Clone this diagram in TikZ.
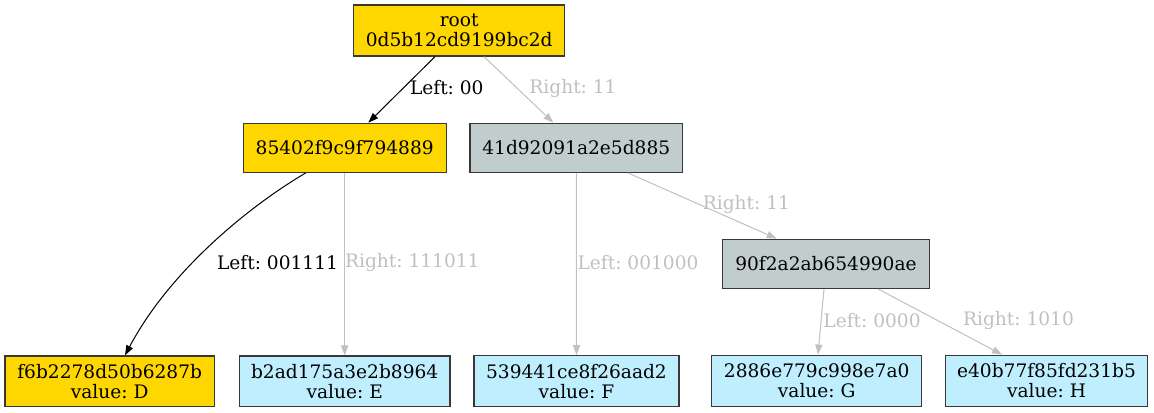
\documentclass[tikz,border=0pt]{standalone}
\usepackage{fontspec}
\setmainfont{DejaVu Serif}
\usetikzlibrary{arrows.meta,calc}
\definecolor{gold}{HTML}{FFD700}
\definecolor{azurethree}{HTML}{C1CDCD}
\definecolor{lightblueone}{HTML}{BFEFFF}
\definecolor{edgegray}{HTML}{C0C0C0}
\definecolor{borderdark}{HTML}{383838}
\lineskiplimit=-20pt
\frenchspacing
\begin{document}
\begin{tikzpicture}[x=0.5pt,y=-0.5pt,
  font=\fontsize{9.3}{10}\selectfont,
  box/.style={draw=borderdark,line width=0.65pt,inner sep=0pt,align=center},
  onpath/.style={box,fill=gold},
  inner/.style={box,fill=azurethree},
  leaf/.style={box,fill=lightblueone},
  taken/.style={draw=black,line width=0.5pt,-{Triangle[length=5pt,width=3.6pt]}},
  other/.style={draw=edgegray,line width=0.5pt,-{Triangle[length=5pt,width=3.6pt]}},
  lbl/.style={inner sep=0pt},
  lblgray/.style={lbl,text=edgegray}]
\useasboundingbox (0,0) rectangle (1154,412);

% tree nodes
\node[onpath,minimum width=105.5pt,minimum height=25.5pt] (root) at (459.2,30.5) {root\\0d5b12cd9199bc2d};
\node[onpath,minimum width=101.5pt,minimum height=24.5pt] (n85) at (344.7,147.8) {85402f9c9f794889};
\node[inner,minimum width=106.3pt,minimum height=24.5pt] (n41) at (576.3,147.8) {41d92091a2e5d885};
\node[inner,minimum width=103.2pt,minimum height=24.5pt] (n90) at (826,263.8) {90f2a2ab654990ae};
\node[onpath,minimum width=104.6pt,minimum height=25.3pt] (lfD) at (109.7,381.3) {f6b2278d50b6287b\\value: D};
\node[leaf,minimum width=105.3pt,minimum height=25.3pt] (lfE) at (344.7,381.3) {b2ad175a3e2b8964\\value: E};
\node[leaf,minimum width=102.5pt,minimum height=25.5pt] (lfF) at (576.5,381.2) {539441ce8f26aad2\\value: F};
\node[leaf,minimum width=105pt,minimum height=25.8pt] (lfG) at (816.7,381) {2886e779c998e7a0\\value: G};
\node[leaf,minimum width=100.8pt,minimum height=25.8pt] (lfH) at (1046.5,381) {e40b77f85fd231b5\\value: H};

% edges
\draw[taken] ($(root.south)+(-24.2,0)$) -- ($(n85.north)+(23.6,0)$);
\draw[other] ($(root.south)+(24.8,0)$) -- ($(n41.north)+(-23,0)$);
\draw[taken] ($(n85.south)+(-39,0)$) .. controls +(-55.7,32.7) and +(45,-85) .. ($(lfD.north)+(15.3,0)$);
\draw[other] (n85.south) -- (lfE.north);
\draw[other] (n41.south) -- (lfF.north);
\draw[other] ($(n41.south)+(51.7,0)$) -- ($(n90.north)+(-49.3,0)$);
\draw[other] ($(n90.south)+(-2,0)$) -- ($(lfG.north)+(1.3,0)$);
\draw[other] ($(n90.south)+(52,0)$) -- ($(lfH.north)+(-44.5,0)$);

% edge labels
\node[lbl] (l1) at (446.8,88) {Left: 00};
\node[lblgray] (l2) at (573,88) {Right: 11};
\node[lbl] (l3) at (277.5,262.7) {Left: 001111};
\node[lblgray] (l4) at (412.3,262.7) {Right: 111011};
\node[lblgray] (l5) at (638,262.7) {Left: 001000};
\node[lblgray] (l6) at (746.4,204) {Right: 11};
\node[lblgray] (l7) at (872,320.7) {Left: 0000};
\node[lblgray] (l8) at (1018.5,320.7) {Right: 1010};
\end{tikzpicture}
\end{document}
